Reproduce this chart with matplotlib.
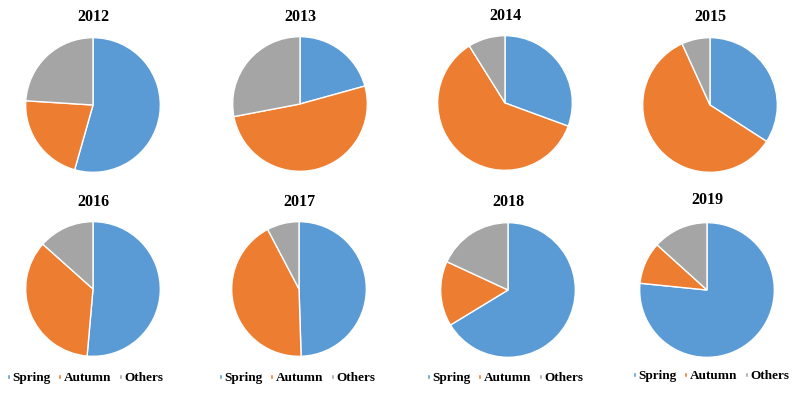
# Distribución estacional por año: 8 gráficos de tarta
import matplotlib
matplotlib.use("Agg")
import matplotlib.pyplot as plt

years = ["2012", "2013", "2014", "2015", "2016", "2017", "2018", "2019"]
labels = ["Spring", "Autumn", "Others"]
spring = [54.4, 20.7, 30.6, 34.1, 51.4, 49.5, 66.3, 76.6]
autumn = [21.6, 51.3, 60.5, 59.1, 35.2, 42.8, 15.6, 10.1]
others = [24.0, 28.0, 8.9, 6.8, 13.4, 7.7, 18.1, 13.3]
colors = ["#5B9BD5", "#ED7D31", "#A5A5A5"]

W, H = 800, 393
# centros de cada tarta (pixeles) y radio
centers = [(93, 105), (300, 104), (505, 103), (710, 105),
           (93, 289), (299, 289), (508, 290), (707, 290)]
title_y = [17, 17, 16, 17, 202, 202, 202, 200]
legend_pos = [(85, 378), (297, 378), (505, 378), (711, 376)]
R = 68

plt.rcParams["font.family"] = ["Liberation Serif", "DejaVu Serif"]
fig = plt.figure(figsize=(W / 100, H / 100), dpi=100)
fig.patch.set_facecolor("white")

for i, yr in enumerate(years):
    cx, cy = centers[i]
    ax = fig.add_axes([(cx - R) / W, (H - cy - R) / H, 2 * R / W, 2 * R / H])
    vals = [spring[i], autumn[i], others[i]]
    wedges, _ = ax.pie(vals, colors=colors, startangle=90, counterclock=False,
                       wedgeprops=dict(edgecolor="white", linewidth=1.0))
    ax.set_xlim(-1.01, 1.01)
    ax.set_ylim(-1.01, 1.01)
    ax.axis("off")
    fig.text(cx / W, 1 - title_y[i] / H, yr, ha="center", va="center",
             fontsize=11.5, fontweight="bold")
    if i >= 4:
        lx, ly = legend_pos[i - 4]
        ax.legend(wedges, labels, loc="center", ncol=3, frameon=False,
                  bbox_to_anchor=(lx / W, 1 - ly / H), bbox_transform=fig.transFigure,
                  prop=dict(weight="bold", size=9.5), handlelength=0.25,
                  handleheight=0.25, handletextpad=0.2, columnspacing=0.55,
                  borderpad=0, borderaxespad=0)

fig.savefig("out.png", dpi=100, facecolor="white")
